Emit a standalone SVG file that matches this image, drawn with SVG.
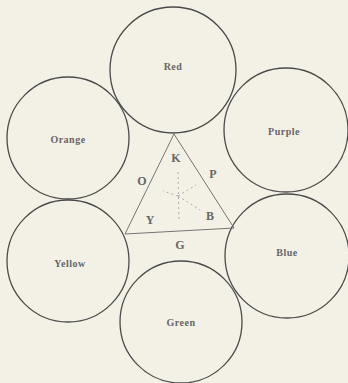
<svg xmlns="http://www.w3.org/2000/svg" width="348" height="383" viewBox="0 0 348 383">
<style>
.c{fill:none;stroke:#4a4a4a;stroke-width:1.3}
.t{font-family:"Liberation Serif",serif;font-size:10px;font-weight:bold;fill:#666;text-anchor:middle;letter-spacing:0.5px}
.l{font-family:"Liberation Serif",serif;font-size:12px;font-weight:bold;fill:#666;text-anchor:middle}
.tri{fill:none;stroke:#666;stroke-width:0.9}
.d{stroke:#999;stroke-width:0.8;stroke-dasharray:2 3;fill:none}
</style>
<rect width="348" height="383" fill="#f3f1e6"/>
<g id="red"><circle class="c" cx="173" cy="70" r="63"/><text class="t" x="173" y="70">Red</text></g>
<g id="orange"><circle class="c" cx="68" cy="138" r="61"/><text class="t" x="68" y="143">Orange</text></g>
<g id="yellow"><circle class="c" cx="68" cy="261" r="61"/><text class="t" x="70" y="267">Yellow</text></g>
<g id="purple"><circle class="c" cx="286" cy="130" r="62"/><text class="t" x="284" y="135">Purple</text></g>
<g id="blue"><circle class="c" cx="287" cy="256" r="62"/><text class="t" x="287" y="256">Blue</text></g>
<g id="green"><circle class="c" cx="181" cy="322" r="61"/><text class="t" x="181" y="326">Green</text></g>
<g id="triangle">
<polygon class="tri" points="174,134 125,234 234,228"/>
<text class="l" x="176" y="162">K</text>
<text class="l" x="142" y="185">O</text>
<text class="l" x="213" y="178">P</text>
<text class="l" x="150" y="224">Y</text>
<text class="l" x="210" y="220">B</text>
<text class="l" x="180" y="249">G</text>
</g>
<g id="connectors">
<line class="d" x1="178" y1="172" x2="179" y2="222"/>
<line class="d" x1="178" y1="196" x2="163" y2="191"/>
<line class="d" x1="178" y1="196" x2="196" y2="185"/>
<line class="d" x1="178" y1="196" x2="200" y2="210"/>
</g>
</svg>
